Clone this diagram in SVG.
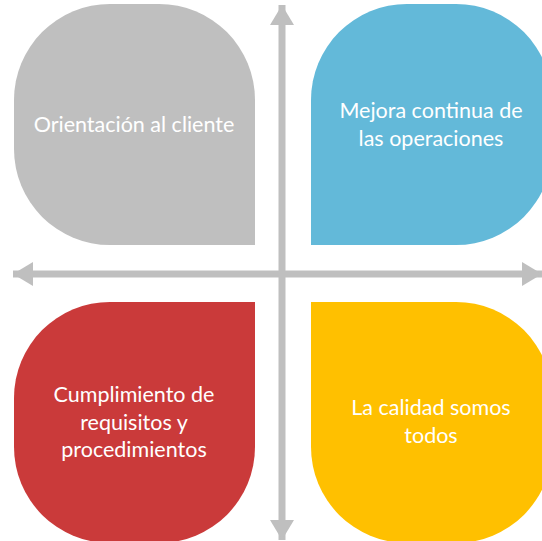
<svg xmlns="http://www.w3.org/2000/svg" width="542" height="541" viewBox="0 0 542 541">
<style>
.lbl{font-family:"Lato","Liberation Sans",sans-serif;font-size:21.5px;fill:#FFFFFF;text-anchor:middle}
.axis{stroke:#BFBFBF;stroke-width:7;fill:none}
</style>
<defs>
<marker id="ah" viewBox="0 0 20 24" refX="20" refY="12" markerWidth="20" markerHeight="24" markerUnits="userSpaceOnUse" orient="auto-start-reverse">
<path d="M0,0 L20,12 L0,24 Z" fill="#BFBFBF"/>
</marker>
</defs>
<rect width="542" height="541" fill="#FFFFFF"/>
<g id="connectors">
<line class="axis" x1="282" y1="5" x2="282" y2="540" marker-start="url(#ah)" marker-end="url(#ah)"/>
<line class="axis" x1="13" y1="274" x2="542" y2="274" marker-start="url(#ah)" marker-end="url(#ah)"/>
</g>
<g id="node-orientacion">
<path d="M255,245 H110 A96,96 0 0 1 14,149 V100 A96,96 0 0 1 110,4 H159 A96,96 0 0 1 255,100 Z" fill="#BFBFBF"/>
<text class="lbl" x="134" y="132">Orientación al cliente</text>
</g>
<g id="node-mejora">
<path d="M311,245 V100 A96,96 0 0 1 407,4 H456 A96,96 0 0 1 552,100 V149 A96,96 0 0 1 456,245 Z" fill="#63B9D9"/>
<text class="lbl" x="431" y="118">Mejora continua de</text>
<text class="lbl" x="431" y="146">las operaciones</text>
</g>
<g id="node-cumplimiento">
<path d="M255,302 V447 A96,96 0 0 1 159,543 H110 A96,96 0 0 1 14,447 V398 A96,96 0 0 1 110,302 Z" fill="#CA3A3A"/>
<text class="lbl" x="134" y="402">Cumplimiento de</text>
<text class="lbl" x="134" y="430">requisitos y</text>
<text class="lbl" x="134" y="457">procedimientos</text>
</g>
<g id="node-calidad">
<path d="M311,302 H456 A96,96 0 0 1 552,398 V447 A96,96 0 0 1 456,543 H407 A96,96 0 0 1 311,447 Z" fill="#FFC000"/>
<text class="lbl" x="431" y="415">La calidad somos</text>
<text class="lbl" x="431" y="443">todos</text>
</g>
</svg>
